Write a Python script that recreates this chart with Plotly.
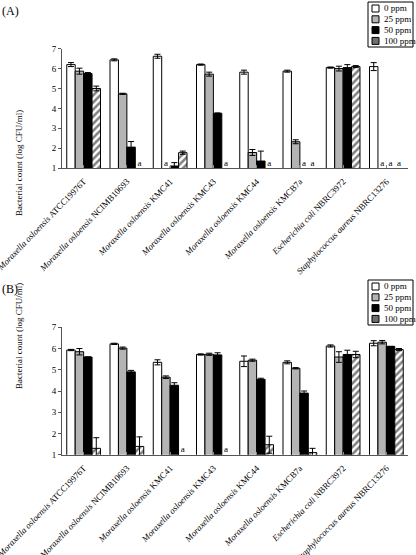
import plotly.graph_objects as go

strains = [
    "<i>Moraxella osloensis</i> ATCC19976T",
    "<i>Moraxella osloensis</i> NCIMB10693",
    "<i>Moraxella osloensis</i> KMC41",
    "<i>Moraxella osloensis</i> KMC43",
    "<i>Moraxella osloensis</i> KMC44",
    "<i>Moraxella osloensis</i> KMCB7a",
    "<i>Escherichia coli</i> NBRC3972",
    "<i>Staphylococcus aureus</i> NBRC13276",
]
concs = ["0 ppm", "25 ppm", "50 ppm", "100 ppm"]

# Panel A values (log CFU/ml); None = not detected ("a")
a_0 = [6.2, 6.44, 6.62, 6.2, 5.82, 5.87, 6.05, 6.1]
a_25 = [5.87, 4.73, None, 5.72, 1.78, 2.32, 6.0, None]
a_50 = [5.75, 2.05, 1.1, 3.75, 1.35, None, 6.05, None]
a_100 = [5.0, None, 1.77, None, None, None, 6.1, None]
a_0_err = [0.1, 0.05, 0.1, 0.03, 0.1, 0.05, 0.03, 0.2]
a_25_err = [0.15, 0.03, 0, 0.1, 0.15, 0.1, 0.12, 0]
a_50_err = [0.05, 0.28, 0.17, 0.02, 0.5, 0, 0.15, 0]
a_100_err = [0.12, 0, 0.08, 0, 0, 0, 0.05, 0]

# Panel B values
b_0 = [5.93, 6.22, 5.35, 5.72, 5.4, 5.35, 6.12, 6.25]
b_25 = [5.85, 6.02, 4.65, 5.73, 5.45, 5.07, 5.6, 6.3]
b_50 = [5.6, 4.9, 4.27, 5.7, 4.55, 3.9, 5.72, 6.1]
b_100 = [1.3, 1.39, None, None, 1.47, 1.1, 5.72, 5.95]
b_0_err = [0.03, 0.03, 0.12, 0.03, 0.25, 0.07, 0.05, 0.12]
b_25_err = [0.15, 0.05, 0.06, 0.05, 0.05, 0.03, 0.25, 0.08]
b_50_err = [0.0, 0.07, 0.12, 0.1, 0.05, 0.1, 0.2, 0.0]
b_100_err = [0.5, 0.45, 0, 0, 0.4, 0.2, 0.15, 0.05]

y_ticks = [1, 2, 3, 4, 5, 6, 7]

FONT = "Liberation Serif"
W, H = 416, 555
fills = ["white", "#b4b4b4", "black", "white"]
legend_fills = ["white", "#b4b4b4", "black", "#6e6e6e"]

fig = go.Figure()
cats = list(range(len(strains)))

panels = [
    ([a_0, a_25, a_50, a_100], [a_0_err, a_25_err, a_50_err, a_100_err], "x", "y"),
    ([b_0, b_25, b_50, b_100], [b_0_err, b_25_err, b_50_err, b_100_err], "x2", "y2"),
]
for vals, errs, xa, ya in panels:
    for i, (v, e) in enumerate(zip(vals, errs)):
        marker = dict(color=fills[i], line=dict(color="black", width=1))
        if i == 3:
            marker["pattern"] = dict(shape="/", fgcolor="black", bgcolor="white", solidity=0.5, size=5)
        fig.add_trace(go.Bar(
            x=cats, y=v, name=concs[i], marker=marker, offsetgroup=str(i),
            error_y=dict(type="data", array=e, color="black", thickness=1, width=3),
            xaxis=xa, yaxis=ya, showlegend=False,
        ))
    for i, v in enumerate(vals):
        ys = [1 if val is None else None for val in v]
        fig.add_trace(go.Scatter(
            x=cats, y=ys, mode="text", text=["a" if val is None else "" for val in v],
            textposition="top center", textfont=dict(family=FONT, size=9, color="#000000"),
            marker=dict(color="black"),
            offsetgroup=str(i), xaxis=xa, yaxis=ya, showlegend=False, cliponaxis=False,
        ))

xcommon = dict(
    tickmode="array", tickvals=cats, ticktext=strains, tickangle=-46,
    tickfont=dict(family=FONT, size=8.8, color="black"), range=[-0.5, 7.5],
    showline=True, linecolor="#555555", linewidth=1, ticks="inside", tickson="boundaries",
    ticklen=3, tickcolor="#888888", showgrid=False, zeroline=False, automargin=False,
    ticklabeloverflow="allow", ticklabelstandoff=4,
)
ycommon = dict(
    range=[1, 7], tickvals=y_ticks, tickfont=dict(family=FONT, size=9, color="black"),
    showline=True, linecolor="#555555", linewidth=1, ticks="outside", ticklen=3,
    tickcolor="#555555", showgrid=False, zeroline=False, automargin=False,
)
xd = [62 / W, 408 / W]

shapes = []
annotations = []
# manual legends (box + swatches + labels) for both panels
for top in (2, 280):
    shapes.append(dict(type="rect", xref="paper", yref="paper",
                       x0=368 / W, x1=413 / W, y0=1 - (top + 45) / H, y1=1 - top / H,
                       line=dict(color="black", width=1), fillcolor="white"))
    for i, name in enumerate(concs):
        cy = top + 6.5 + i * 10.8
        shapes.append(dict(type="rect", xref="paper", yref="paper",
                           x0=372 / W, x1=379 / W, y0=1 - (cy + 3.5) / H, y1=1 - (cy - 3.5) / H,
                           line=dict(color="black", width=1), fillcolor=legend_fills[i]))
        annotations.append(dict(text=name, x=382 / W, y=1 - cy / H, xref="paper", yref="paper",
                                xanchor="left", yanchor="middle", showarrow=False,
                                font=dict(family=FONT, size=9, color="black")))

annotations += [
    dict(text="(A)", x=0, y=1 - 2 / H, xref="paper", yref="paper", xanchor="left",
         yanchor="top", showarrow=False, font=dict(family=FONT, size=12, color="black")),
    dict(text="(B)", x=0, y=1 - 280 / H, xref="paper", yref="paper", xanchor="left",
         yanchor="top", showarrow=False, font=dict(family=FONT, size=12, color="black")),
    dict(text="Bacterial count (log CFU/ml)", x=12 / W, y=1 - 108 / H, xref="paper",
         yref="paper", textangle=-90, showarrow=False,
         font=dict(family=FONT, size=9, color="black")),
    dict(text="Bacterial count (log CFU/ml)", x=12 / W, y=1 - 391 / H, xref="paper",
         yref="paper", textangle=-90, showarrow=False,
         font=dict(family=FONT, size=9, color="black")),
]

fig.update_layout(
    width=W, height=H, margin=dict(l=0, r=0, t=0, b=0),
    plot_bgcolor="white", paper_bgcolor="white", colorway=["black"],
    barmode="group", bargap=0.22, bargroupgap=0.0, scattermode="group",
    showlegend=False,
    xaxis=dict(domain=xd, anchor="y", **xcommon),
    yaxis=dict(domain=[1 - 168 / H, 1 - 48.7 / H], anchor="x", **ycommon),
    xaxis2=dict(domain=xd, anchor="y2", **xcommon),
    yaxis2=dict(domain=[1 - 454.7 / H, 1 - 327.3 / H], anchor="x2", **ycommon),
    shapes=shapes,
    annotations=annotations,
)
fig.write_html("out.html", config={"displayModeBar": False},
               post_script="document.body.style.margin='0';document.body.style.overflow='hidden';")
